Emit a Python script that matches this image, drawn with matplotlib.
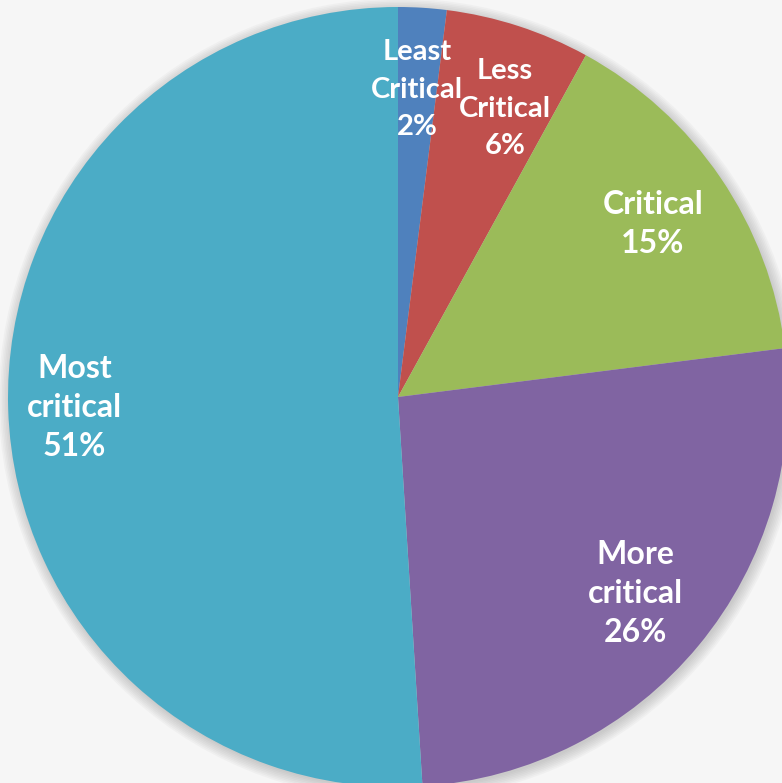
import matplotlib.pyplot as plt
from matplotlib.patches import Circle

# datos del grafico de criticidad
categorias = ['Least\nCritical', 'Less\nCritical', 'Critical', 'More\ncritical', 'Most\ncritical']
porcentajes = [2, 6, 15, 26, 51]
colores = ['#4F81BD', '#C0504D', '#9BBB59', '#8064A2', '#4BACC6']

fig = plt.figure(figsize=(7.82, 7.83), dpi=100)
fig.patch.set_facecolor('#f6f6f6')
ax = fig.add_axes([0, 0, 1, 1])
ax.set_facecolor('#f6f6f6')

# sombra suave alrededor del circulo
for i in range(8):
    ax.add_patch(Circle((0.004, -0.006), 1.0 + i * 0.004, color='#808080',
                        alpha=0.05, lw=0, zorder=0))

etiquetas = [f'{c}\n{p}%' for c, p in zip(categorias, porcentajes)]
wedges, textos = ax.pie(porcentajes, colors=colores, startangle=90, counterclock=False,
                        radius=1.0, labels=etiquetas, labeldistance=0.79,
                        wedgeprops=dict(linewidth=0),
                        textprops=dict(color='white', fontsize=23, fontweight='bold',
                                       family='Lato', linespacing=1.42,
                                       ha='center', va='center'))
for t in textos:
    t.set_horizontalalignment('center')
# la etiqueta grande va un poco mas afuera
x, y = textos[4].get_position()
textos[4].set_position((x * 0.83 / 0.79, y * 0.83 / 0.79))
# las dos etiquetas chicas de arriba, algo mas pequeñas y separadas
textos[0].set_fontsize(21)
textos[0].set_linespacing(1.55)
textos[1].set_fontsize(21)
textos[1].set_linespacing(1.55)
x, y = textos[1].get_position()
textos[1].set_position((x + 0.03, y - 0.012))

ax.set_xlim(-398 / 390, 384 / 390)
ax.set_ylim(-386 / 390, 397 / 390)
ax.set_aspect('auto')
ax.axis('off')

fig.savefig('out.png', dpi=100, facecolor=fig.get_facecolor())
